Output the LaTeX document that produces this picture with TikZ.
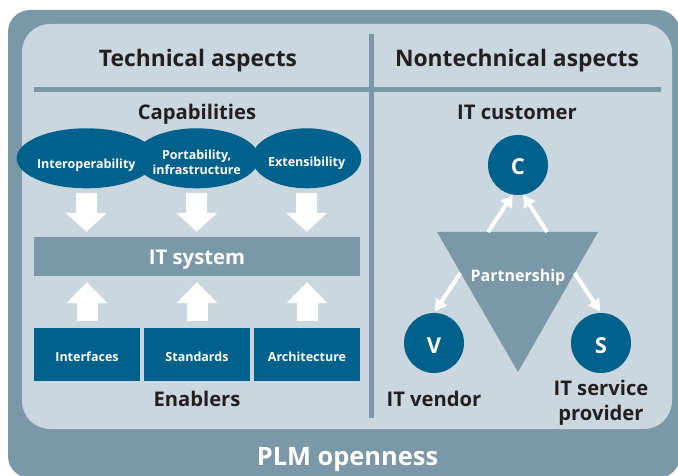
\documentclass[tikz,border=0pt]{standalone}
\usepackage{fontspec}
\setmainfont{Open Sans}
\usetikzlibrary{shapes.geometric,arrows.meta}
\definecolor{outerc}{HTML}{7A98A8}
\definecolor{innerc}{HTML}{CAD7DF}
\definecolor{darkb}{HTML}{00628C}
\definecolor{txt}{HTML}{231F20}
\tikzset{
  head/.style={font=\bfseries\fontsize{22.8}{26}\selectfont, text=txt, inner sep=0pt, anchor=base},
  sub/.style={font=\bfseries\fontsize{20.2}{25}\selectfont, text=txt, inner sep=0pt, anchor=base},
  capell/.style={ellipse, fill=darkb, minimum width=106pt, minimum height=60pt, inner sep=0pt, text=white, text depth=0pt, font=\bfseries\fontsize{12.5}{15}\selectfont},
  enab/.style={rectangle, fill=darkb, minimum width=106pt, minimum height=53pt, inner sep=0pt, text=white, text height=14.4pt, text depth=0pt, font=\bfseries\fontsize{12.5}{15}\selectfont},
  circ/.style={circle, fill=darkb, minimum size=60pt, inner sep=0pt, text=white, text height=20pt, text depth=0pt, font=\bfseries\fontsize{22}{24}\selectfont},
  blockarr/.style={line width=21pt, draw=white, line cap=butt},
  warrow/.style={line width=4pt, draw=white, line cap=butt, -{Triangle[width=13pt,length=12pt]}},
}
\begin{document}
\begin{tikzpicture}[x=1pt,y=-1pt]
\clip (0,0) rectangle (678,476);
% outer and inner panels
\fill[outerc, rounded corners=22pt] (8,10) rectangle (680,478);
\fill[innerc, rounded corners=28pt] (22,24) rectangle (672,429);
% dividers
\fill[outerc] (369,34) rectangle (374,418);
\fill[outerc] (34,87) rectangle (661,92);
% headings
\node[head] (th) at (198,66.7) {Technical aspects};
\node[head] (nh) at (517,66.7) {Nontechnical aspects};
\node[sub] (cap) at (197,119.5) {Capabilities};
\node[sub] (itc) at (517,120) {IT customer};
\node[sub] (enb) at (197,406.7) {Enablers};
% capabilities
\node[capell, text height=20.6pt] (e1) at (86.3,158.3) {Interoperability};
\node[capell, text height=32.6pt] (e2) at (196.7,158.3) {\begin{tabular}[b]{@{}c@{}}Portability,\\infrastructure\end{tabular}};
\node[capell, text height=17.4pt] (e3) at (306.7,158.3) {Extensibility};
% IT system bar
\node[rectangle, fill=outerc, minimum width=326pt, minimum height=39pt, inner sep=0pt, text=white, text height=17pt, text depth=0pt, font=\bfseries\fontsize{20.3}{22}\selectfont] (its) at (197,256.5) {IT system};
% enablers
\node[enab] (b1) at (87,354.5) {Interfaces};
\node[enab] (b2) at (197,354.5) {Standards};
\node[enab] (b3) at (307,354.5) {Architecture};
% block arrows
\foreach \e in {e1,e2,e3}{
  \draw[blockarr, -{Triangle[width=40pt,length=19pt]}, shorten <=5pt, shorten >=5pt] (\e.south) -- (\e.south |- its.north);
}
\foreach \b in {b1,b2,b3}{
  \draw[blockarr, -{Triangle[width=40pt,length=21pt]}, shorten <=7pt, shorten >=6pt] (\b.north) -- (\b.north |- its.south);
}
% right side
\coordinate (t1) at (437,232);
\coordinate (t2) at (598,232);
\coordinate (t3) at (518,372);
\fill[outerc] (t1) -- (t2) -- (t3) -- cycle;
\node[text=white, inner sep=0pt, anchor=base, font=\bfseries\fontsize{16}{18}\selectfont] (pt) at (518,281.7) {Partnership};
\node[circ] (C) at (518,165) {C};
\node[circ] (V) at (434,343) {V};
\node[circ] (S) at (601,343) {S};
\coordinate (a1) at (488,232);
\coordinate (a2) at (547,232);
\coordinate (a3) at (460.5,273);
\coordinate (a4) at (574.5,273);
\draw[warrow] (a1) -- (C.-100);
\draw[warrow] (a2) -- (C.-80);
\draw[warrow, shorten >=1.5pt] (a3) -- (V.north);
\draw[warrow, shorten >=1.5pt] (a4) -- (S.north);
\node[sub] (itv) at (434,406.7) {IT vendor};
\node[sub] (isp) at (601,420) {\begin{tabular}[b]{@{}c@{}}IT service\\provider\end{tabular}};
% footer
\node[text=white, inner sep=0pt, anchor=base, font=\bfseries\fontsize{25.4}{28}\selectfont] (plm) at (347.5,465) {PLM openness};
\end{tikzpicture}
\end{document}
